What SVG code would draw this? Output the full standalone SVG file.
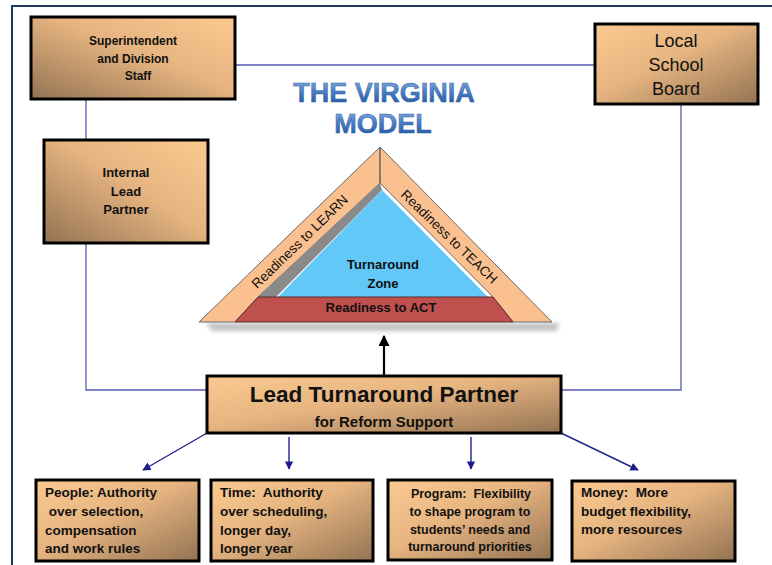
<svg xmlns="http://www.w3.org/2000/svg" width="772" height="565" viewBox="0 0 772 565">
<defs>
<linearGradient id="gTL" x1="0" y1="0" x2="1" y2="1"><stop offset="0" stop-color="#fbca90"/><stop offset="0.45" stop-color="#e6b480"/><stop offset="1" stop-color="#937353"/></linearGradient>
<linearGradient id="gTR" x1="1" y1="0" x2="0" y2="1"><stop offset="0" stop-color="#fbca90"/><stop offset="0.45" stop-color="#e6b480"/><stop offset="1" stop-color="#937353"/></linearGradient>
<linearGradient id="gTitle" x1="0" y1="0" x2="0" y2="1"><stop offset="0" stop-color="#8fb3e3"/><stop offset="0.45" stop-color="#4a7fc4"/><stop offset="1" stop-color="#1e4f98"/></linearGradient>
<marker id="nav" viewBox="0 0 10 10" refX="9" refY="5" markerWidth="6" markerHeight="6" orient="auto"><path d="M0,0 L10,5 L0,10 z" fill="#1c1c8c"/></marker>
<marker id="blk" viewBox="0 0 10 10" refX="9" refY="5" markerWidth="5" markerHeight="5" orient="auto"><path d="M0,0 L10,5 L0,10 z" fill="#000"/></marker>
<filter id="blur" x="-10%" y="-50%" width="120%" height="200%"><feGaussianBlur stdDeviation="2"/></filter>
</defs>
<style>
.box{stroke:#000;stroke-width:3}
.t{font-family:"Liberation Sans",Arial,sans-serif;fill:#111;white-space:pre}
.b{font-weight:bold}
.c{text-anchor:middle}
.ln{fill:none;stroke:#5a5ab8;stroke-width:1.3}
.ar{fill:none;stroke:#23238f;stroke-width:1.4;marker-end:url(#nav)}
.band{fill:#fac08f;stroke:#6b6b6b;stroke-width:1}
</style>
<rect width="772" height="565" fill="#fff"/>
<path d="M12,565 L12,6 L772,6" fill="none" stroke="#203864" stroke-width="2"/>

<g id="connectors">
<path class="ln" d="M235,65 L594,65"/>
<path class="ln" d="M86,99 L86,139"/>
<path class="ln" d="M86,243 L86,390 L207,390"/>
<path class="ln" d="M681,104 L681,390 L561,390"/>
<path class="ar" d="M207,433 L143,470"/>
<path class="ar" d="M289,437 L289,469"/>
<path class="ar" d="M471,437 L471,469"/>
<path class="ar" d="M561,433 L638,470"/>
<path d="M384,376 L384,336" fill="none" stroke="#000" stroke-width="2.2" marker-end="url(#blk)"/>
</g>

<g id="title">
<text class="b c" x="384" y="102" font-family="Liberation Sans,Arial,sans-serif" font-size="27" fill="url(#gTitle)" stroke="#2f5fa5" stroke-width="0.5">THE VIRGINIA</text>
<text class="b c" x="383" y="133" font-family="Liberation Sans,Arial,sans-serif" font-size="27" fill="url(#gTitle)" stroke="#2f5fa5" stroke-width="0.5">MODEL</text>
</g>

<g id="triangle">
<polygon points="206,323 560,323 556,331 212,331" fill="#9a9a9a" opacity="0.6" filter="url(#blur)"/>
<polygon class="band" points="199,322 380,147 380,183 258,297 235,322"/>
<polygon class="band" points="552,322 380,147 380,183 493,297 513,322"/>
<polygon points="380,183 258,297 276,297 382,190" fill="#8a8a8a"/>
<polygon points="382,190 278,297 488,297" fill="#62c8f8"/>
<polygon points="258,297 493,297 513,322 235,322" fill="#c0504d" stroke="#5a2a28" stroke-width="1"/>
<line x1="380" y1="147" x2="380" y2="183" stroke="#6b6b6b" stroke-width="1"/>
<text class="t c" font-size="13.5" transform="translate(303,245) rotate(-44)">Readiness to LEARN</text>
<text class="t c" font-size="13.5" transform="translate(446,240) rotate(44)">Readiness to TEACH</text>
<text class="t b c" x="383" y="269" font-size="13">Turnaround</text>
<text class="t b c" x="383" y="288" font-size="13">Zone</text>
<text class="t b c" x="381" y="312" font-size="13">Readiness to ACT</text>
</g>

<g id="superintendent">
<rect class="box" x="31" y="17" width="204" height="82" fill="url(#gTR)"/>
<text class="t b c" x="133" y="45" font-size="12">Superintendent</text>
<text class="t b c" x="133" y="63" font-size="12">and Division</text>
<text class="t b c" x="138" y="80" font-size="12">Staff</text>
</g>

<g id="local-school-board">
<rect class="box" x="595" y="24" width="163" height="80" fill="url(#gTL)"/>
<text class="t c" x="676" y="47" font-size="18">Local</text>
<text class="t c" x="676" y="71" font-size="18">School</text>
<text class="t c" x="676" y="95" font-size="18">Board</text>
</g>

<g id="internal-lead-partner">
<rect class="box" x="44" y="140" width="164" height="103" fill="url(#gTR)"/>
<text class="t b c" x="126" y="177" font-size="13">Internal</text>
<text class="t b c" x="126" y="196" font-size="13">Lead</text>
<text class="t b c" x="126" y="214" font-size="13">Partner</text>
</g>

<g id="lead-turnaround-partner">
<rect class="box" x="207" y="376" width="354" height="57" fill="url(#gTL)"/>
<text class="t b c" x="384" y="402" font-size="22.5">Lead Turnaround Partner</text>
<text class="t b c" x="384" y="427" font-size="15">for Reform Support</text>
</g>

<g id="people">
<rect class="box" x="36" y="480" width="163" height="81" fill="url(#gTL)"/>
<text class="t b" x="45" y="497" font-size="13.5">People: Authority</text>
<text class="t b" x="45" y="516" font-size="13.5"> over selection,</text>
<text class="t b" x="45" y="535" font-size="13.5">compensation</text>
<text class="t b" x="45" y="553" font-size="13.5">and work rules</text>
</g>

<g id="time">
<rect class="box" x="211" y="480" width="162" height="81" fill="url(#gTL)"/>
<text class="t b" x="220" y="497" font-size="13.5">Time:  Authority</text>
<text class="t b" x="220" y="516" font-size="13.5">over scheduling,</text>
<text class="t b" x="220" y="535" font-size="13.5">longer day,</text>
<text class="t b" x="220" y="553" font-size="13.5">longer year</text>
</g>

<g id="program">
<rect class="box" x="388" y="480" width="164" height="80" fill="url(#gTL)"/>
<text class="t b c" x="471" y="498" font-size="12.5">Program:  Flexibility</text>
<text class="t b c" x="470" y="516" font-size="12.5">to shape program to</text>
<text class="t b c" x="470" y="534" font-size="12.5">students’ needs and</text>
<text class="t b c" x="470" y="551" font-size="12.5">turnaround priorities</text>
</g>

<g id="money">
<rect class="box" x="572" y="481" width="163" height="80" fill="url(#gTL)"/>
<text class="t b" x="581" y="497" font-size="13.5">Money:  More</text>
<text class="t b" x="581" y="516" font-size="13.5">budget flexibility,</text>
<text class="t b" x="581" y="534" font-size="13.5">more resources</text>
</g>
</svg>
